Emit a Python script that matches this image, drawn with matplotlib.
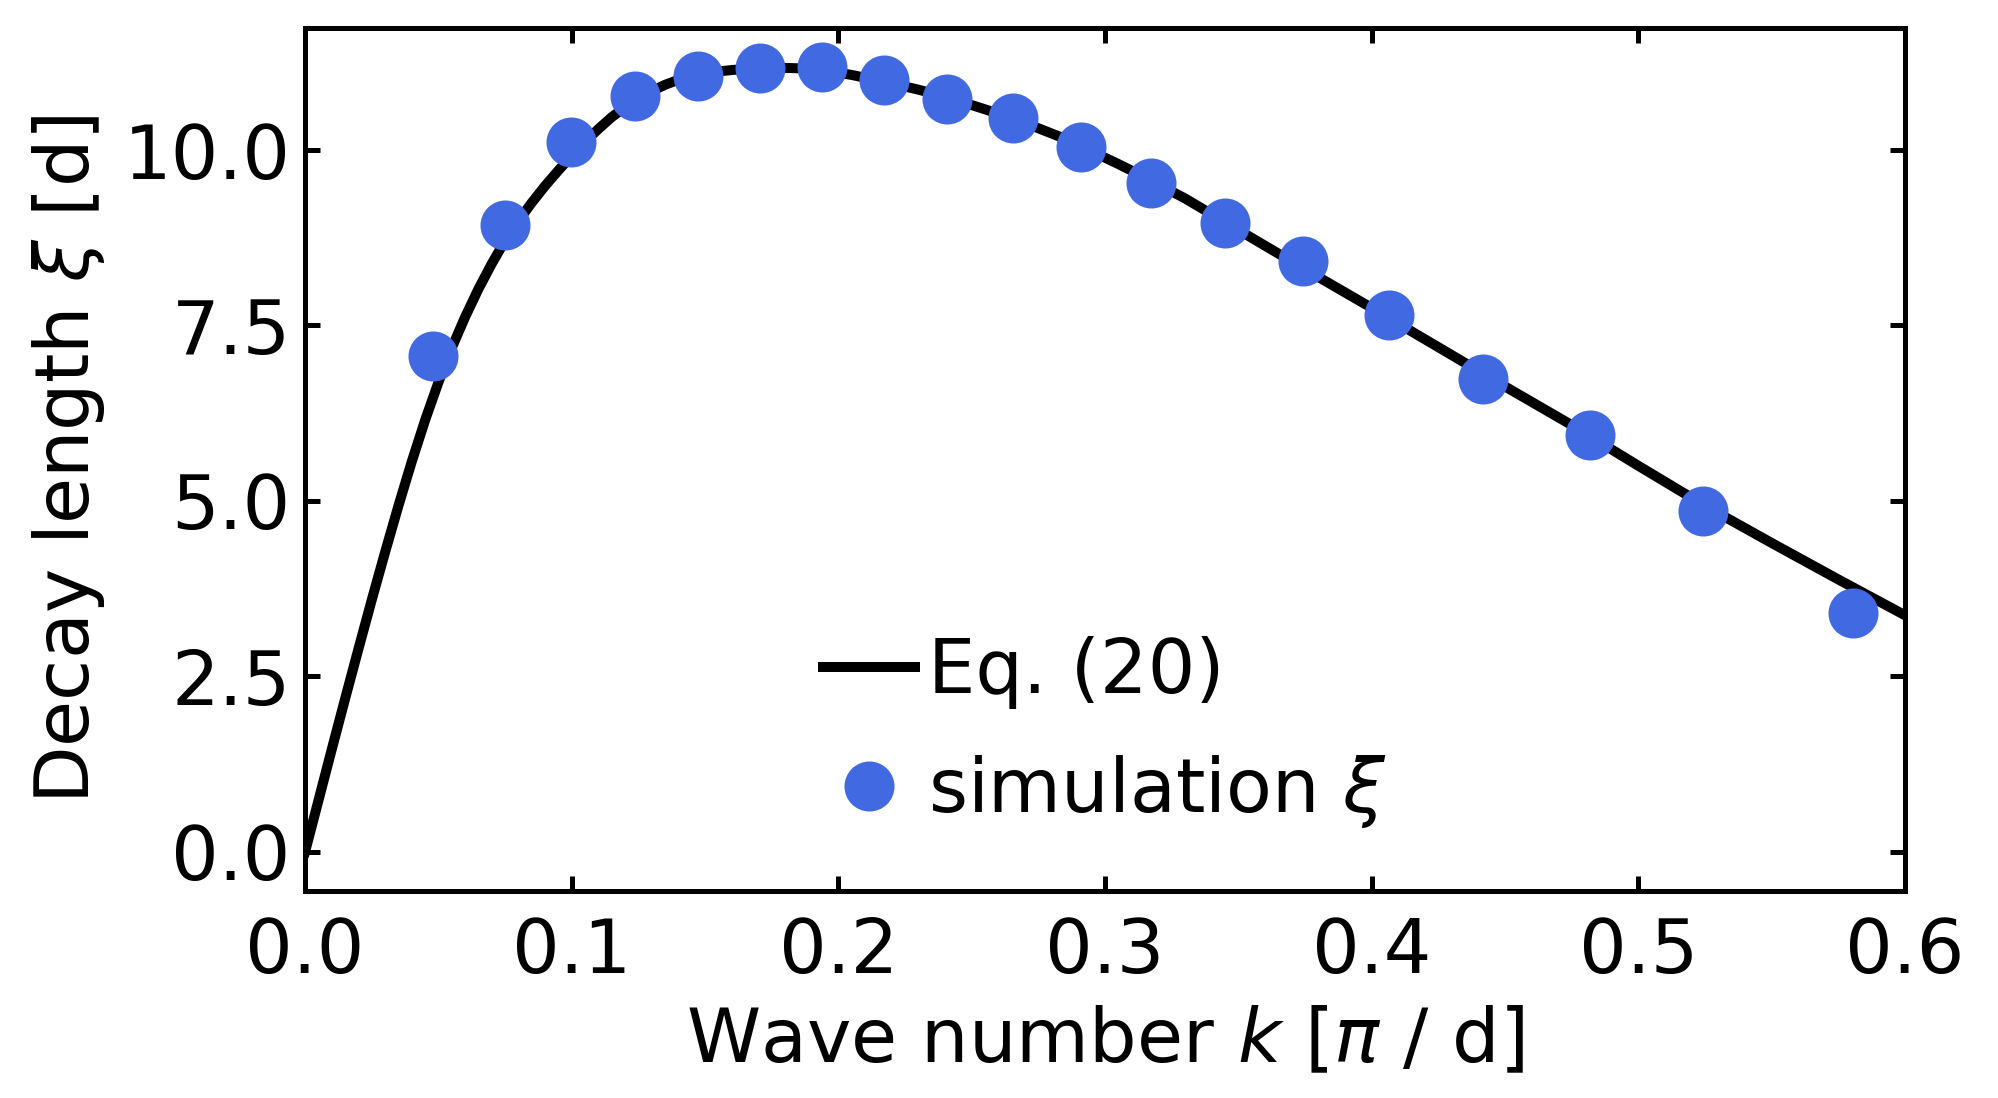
import matplotlib
matplotlib.use('Agg')
import matplotlib.pyplot as plt

# Eq. (20) curve
k_curve = [0.000, 0.005, 0.010, 0.015, 0.020, 0.025, 0.030, 0.035, 0.040, 0.045,
           0.050, 0.055, 0.060, 0.065, 0.070, 0.075, 0.080, 0.085, 0.090, 0.095,
           0.100, 0.105, 0.110, 0.115, 0.120, 0.125, 0.130, 0.135, 0.140, 0.145,
           0.150, 0.155, 0.160, 0.165, 0.170, 0.175, 0.180, 0.185, 0.190, 0.195,
           0.200, 0.205, 0.210, 0.215, 0.220, 0.225, 0.230, 0.235, 0.240, 0.245,
           0.250, 0.255, 0.260, 0.265, 0.270, 0.275, 0.280, 0.285, 0.290, 0.295,
           0.300, 0.305, 0.310, 0.315, 0.320, 0.325, 0.330, 0.350, 0.375, 0.400,
           0.425, 0.450, 0.475, 0.500, 0.525, 0.550, 0.575, 0.600]
xi_curve = [0.00, 0.73, 1.46, 2.18, 2.89, 3.59, 4.27, 4.93, 5.56, 6.15,
            6.69, 7.18, 7.62, 8.02, 8.38, 8.71, 8.99, 9.25, 9.49, 9.71,
            9.92, 10.12, 10.30, 10.47, 10.61, 10.73, 10.84, 10.93, 11.00, 11.05,
            11.09, 11.12, 11.14, 11.155, 11.165, 11.17, 11.17, 11.165, 11.15, 11.13,
            11.10, 11.07, 11.03, 10.99, 10.95, 10.905, 10.86, 10.81, 10.755, 10.70,
            10.64, 10.58, 10.515, 10.45, 10.38, 10.31, 10.235, 10.16, 10.07, 9.98,
            9.89, 9.80, 9.705, 9.61, 9.51, 9.41, 9.31, 8.86, 8.30, 7.75,
            7.19, 6.63, 6.08, 5.50, 4.93, 4.40, 3.88, 3.37]

# simulation points
k_sim = [0.0481, 0.0748, 0.0996, 0.1236, 0.1473, 0.1705, 0.1939, 0.2172,
         0.2408, 0.2655, 0.2908, 0.3171, 0.3448, 0.3744, 0.4064, 0.4418,
         0.4819, 0.5244, 0.5806]
xi_sim = [7.07, 8.93, 10.11, 10.77, 11.05, 11.17, 11.18, 11.0, 10.73,
          10.45, 10.05, 9.53, 8.96, 8.42, 7.65, 6.74, 5.94, 4.85, 3.40]

plt.rcParams['font.size'] = 18
plt.rcParams['mathtext.fontset'] = 'dejavusans'

fig = plt.figure(figsize=(6.66, 3.66), dpi=300)
ax = fig.add_axes([0.1527, 0.1885, 0.8008, 0.786])

ax.plot(k_curve, xi_curve, color='black', linewidth=2.4, label='Eq. (20)',
        solid_joinstyle='round')
ax.plot(k_sim, xi_sim, 'o', color='royalblue', markersize=11,
        label=r'simulation $\xi$')

ax.set_xlim(0, 0.6)
ax.set_yticks([0.0, 2.5, 5.0, 7.5, 10.0])
ax.set_xticks([0.0, 0.1, 0.2, 0.3, 0.4, 0.5, 0.6])

ax.set_xlabel(r'Wave number $k$ [$\pi$ / d]')
ax.set_ylabel(r'Decay length $\xi$ [d]')

for spine in ax.spines.values():
    spine.set_linewidth(1.2)
ax.tick_params(direction='in', top=True, right=True, length=3.5, width=1.2)
ax.tick_params(axis='x', pad=6)

ax.legend(loc='lower center', bbox_to_anchor=(0.5, -0.0074), frameon=False,
          handlelength=1.22, handletextpad=0.18, labelspacing=0.585)

fig.savefig('out.png', dpi=300)
